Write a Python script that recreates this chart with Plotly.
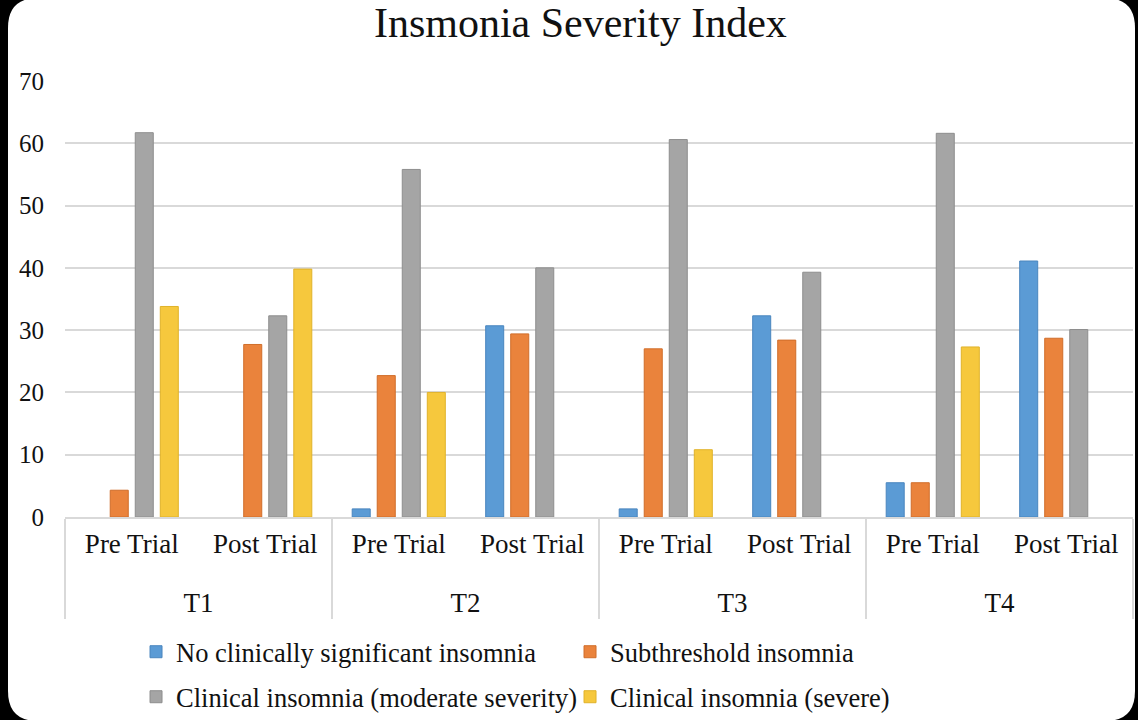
import plotly.graph_objects as go

# categories (the inner labels carry an empty 2nd line to push the T-row down)
pad = "<br><span style='font-size:1px'>\u00a0</span>"
trials = ["T1", "T1", "T2", "T2", "T3", "T3", "T4", "T4"]
phases = ["Pre Trial" + pad, "Post Trial" + pad] * 4

# series values (None = no bar)
no_insomnia = [None, None, 1.3, 30.7, 1.3, 32.3, 5.5, 41.1]
subthreshold = [4.3, 27.7, 22.7, 29.4, 27.0, 28.4, 5.5, 28.7]
moderate = [61.7, 32.3, 55.8, 40.0, 60.6, 39.3, 61.6, 30.1]
severe = [33.8, 39.8, 20.0, None, 10.8, None, 27.3, None]

series = [
    ("No clinically significant insomnia", no_insomnia, "#5B9BD5", "#4A86BE", "legend"),
    ("Subthreshold insomnia", subthreshold, "#EA833C", "#D06D2A", "legend"),
    ("Clinical insomnia (moderate severity)", moderate, "#A5A5A5", "#8E8E8E", "legend2"),
    ("Clinical insomnia (severe)", severe, "#F6C83D", "#E0B22A", "legend2"),
]

fig = go.Figure()
for name, vals, color, edge, leg in series:
    fig.add_bar(x=[trials, phases], y=vals, name=name, legend=leg,
                marker=dict(color=color, line=dict(color=edge, width=1)))

# white rounded card on black page (pixel offsets from plot-area bottom-left)
L, R, T, B, r = -57, 1070, 519, -204, 30
card = (f"M{L+r},{T} L{R-r},{T} Q{R},{T} {R},{T-r} L{R},{B+r} Q{R},{B} {R-r},{B} "
        f"L{L+r},{B} Q{L},{B} {L},{B+r} L{L},{T-r} Q{L},{T} {L+r},{T} Z")

legend_style = dict(orientation="h", x=0.0665, xanchor="left", yref="container",
                    yanchor="middle", bgcolor="rgba(0,0,0,0)", entrywidth=389,
                    entrywidthmode="pixels", font=dict(size=26.5))

fig.update_layout(
    width=1138, height=720,
    margin=dict(l=65, r=5, t=81, b=203),
    paper_bgcolor="black",
    plot_bgcolor="rgba(0,0,0,0)",
    font=dict(family="Liberation Serif", color="#111111", size=27),
    title=dict(text="Insmonia Severity Index", font=dict(size=42, color="#111111"),
               x=0.51, xanchor="center", y=1 - 22 / 720, yanchor="middle"),
    barmode="group", bargap=0.25, bargroupgap=0.28,
    shapes=[dict(type="path", xref="paper", yref="paper", xsizemode="pixel",
                 ysizemode="pixel", xanchor=0, yanchor=0, path=card,
                 fillcolor="white", line=dict(width=0), layer="below")],
    legend=dict(legend_style, y=1 - 652 / 720),
    legend2=dict(legend_style, y=1 - 697 / 720),
    showlegend=True,
)

fig.update_yaxes(range=[0, 70], dtick=10, showgrid=True, gridcolor="#d9d9d9",
                 gridwidth=1.5, zeroline=False, showline=False, automargin=False,
                 tickfont=dict(size=25), ticklabelstandoff=20)
fig.update_xaxes(type="multicategory", showline=True, linecolor="#d9d9d9",
                 linewidth=1.5, showdividers=True, dividercolor="#d9d9d9",
                 dividerwidth=1.5, ticks="", tickfont=dict(size=27),
                 ticklabelstandoff=2, automargin=False)

fig.write_html("out.html", config={"displayModeBar": False},
               post_script="document.body.style.margin='0';")
